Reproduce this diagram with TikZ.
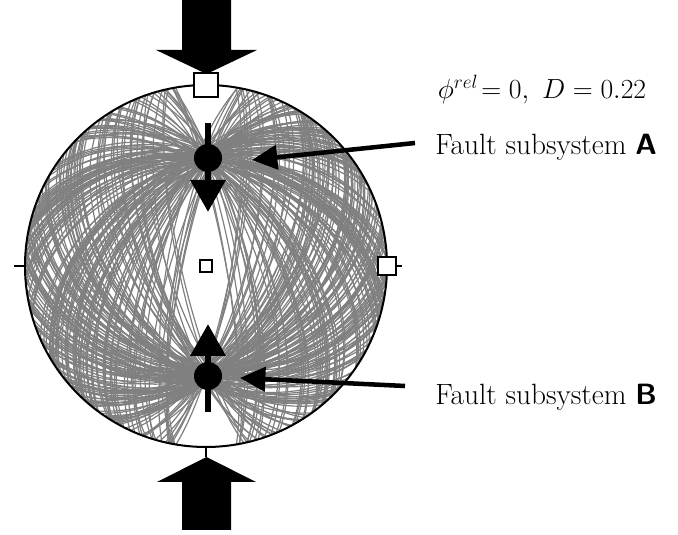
\documentclass[tikz,border=0pt]{standalone}
\usepackage{amsmath,amssymb}
\usepackage{tikz}
\usetikzlibrary{arrows.meta,calc,positioning}
\tikzset{
  plane/.style   = {black!50, line width=0.9pt},
  rim/.style     = {draw, line width=1.5pt},
  axisbox/.style = {draw, line width=1.4pt, fill=white, inner sep=0pt},
  dot/.style     = {circle, fill=black, inner sep=0pt, minimum size=21pt},
  slip/.style    = {line width=5.2pt, -{Triangle[length=24pt,width=25.5pt]}},
  pointer/.style = {line width=3.4pt, -{Triangle[length=19pt,width=18pt]}},
  txt/.style     = {font=\fontsize{22}{26}\selectfont, inner sep=0pt},
}
% great circles of planes that share (roughly) one axis
\newcommand{\planeset}[2]{%
  \foreach \k in {1,...,#2}{
    \pgfmathsetmacro\axAz{#1+4*rand}
    \pgfmathsetmacro\axPl{39.8+4*rand}
    \pgfmathsetmacro\stk{#1+9+162*rnd}
    \pgfmathsetmacro\Ax{sin(\axAz)*cos(\axPl)}
    \pgfmathsetmacro\Ay{cos(\axAz)*cos(\axPl)}
    \pgfmathsetmacro\Wx{sin(\stk)}
    \pgfmathsetmacro\Wy{cos(\stk)}
    \pgfmathsetmacro\Dt{\Ax*\Wx+\Ay*\Wy}
    \pgfmathsetmacro\Nq{sqrt((\Ax-\Dt*\Wx)^2+(\Ay-\Dt*\Wy)^2+sin(\axPl)^2)}
    \pgfmathsetmacro\Qx{(\Ax-\Dt*\Wx)/\Nq}
    \pgfmathsetmacro\Qy{(\Ay-\Dt*\Wy)/\Nq}
    \pgfmathsetmacro\Qz{-sin(\axPl)/\Nq}
    \draw[plane] plot[domain=0:180, samples=45, variable=\t]
      ({(cos(\t)*\Wx+sin(\t)*\Qx)/sqrt(1-sin(\t)*\Qz)},
       {(cos(\t)*\Wy+sin(\t)*\Qy)/sqrt(1-sin(\t)*\Qz)});
  }%
}

\begin{document}
\begin{tikzpicture}[x=0.75pt,y=0.75pt]
  \useasboundingbox (0,0) rectangle (678,535);
  \pgfmathsetseed{11}
  \begin{scope}[shift={(206,269)}, scale=181]
    \clip (0,0) circle (1);
    \planeset{0}{140}
    \planeset{180}{140}
  \end{scope}
  \node[rim, circle, inner sep=0pt, outer sep=0pt, minimum size=271.5pt] (net) at (206,269) {};

  \draw[line width=0.8pt] (net.west) -- ++(-11,0);
  \draw[line width=0.8pt] (net.east) -- ++(15,0);
  \coordinate (stemS) at (206,78);
  \draw[line width=0.8pt] (net.south) -- (stemS);

  \node[axisbox, minimum size=18.5pt] (sigN) at (net.north) {};
  \node[axisbox, minimum size=13.5pt] (sigE) at (net.east) {};
  \node[axisbox, minimum size=9.5pt] (sigC) at (net.center) {};

  \fill (182,535) -- (231,535) -- (231,485) -- (257,485) -- (206.5,461)
        -- (156,485) -- (182,485) -- cycle;
  \fill (182,5) -- (231,5) -- (231,53) -- (256,53) -- (206.5,78)
        -- (157,53) -- (182,53) -- cycle;

  \node[dot] (dotA) at (208,377) {};
  \node[dot] (dotB) at (208,159) {};
  \coordinate (barA) at (208,412);
  \coordinate (slipA) at (208,323);
  \coordinate (barB) at (208,123);
  \coordinate (slipB) at (208,211);
  \draw[line width=5.2pt] (dotA.center) -- (barA);
  \draw[slip] (dotA.center) -- (slipA);
  \draw[line width=5.2pt] (dotB.center) -- (barB);
  \draw[slip] (dotB.center) -- (slipB);

  \node[txt, font=\fontsize{20.5}{24}\selectfont] (ratio) at (542,445) {$\phi^{rel}\!= 0,\ D = 0.22$};
  \node[txt, anchor=west] (labA) at (435,388) {Fault subsystem \textsf{\textbf{A}}};
  \node[txt, anchor=west] (labB) at (435,138) {Fault subsystem \textsf{\textbf{B}}};

  \coordinate (tailA) at (415,392);
  \coordinate (tipA) at (252,375);
  \coordinate (tailB) at (405,149);
  \coordinate (tipB) at (240,157);
  \draw[pointer] (tailA) -- (tipA);
  \draw[pointer] (tailB) -- (tipB);
\end{tikzpicture}
\end{document}
